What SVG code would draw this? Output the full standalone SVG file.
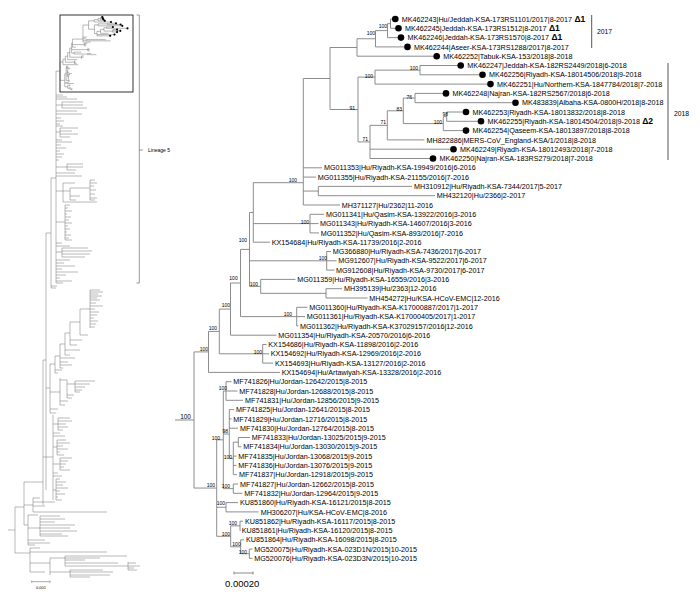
<svg xmlns="http://www.w3.org/2000/svg" xmlns:xlink="http://www.w3.org/1999/xlink" width="700" height="606" viewBox="0 0 700 606">
<style>
.lbl{font-family:"Liberation Sans",Arial,sans-serif;font-size:7.2px;fill:#000}
.bs{font-family:"Liberation Sans",Arial,sans-serif;font-size:5px;text-anchor:end;fill:#000}
.dl{font-weight:bold;font-size:8.5px}
.yr{font-family:"Liberation Sans",Arial,sans-serif;font-size:6.8px;fill:#000}
.dot{fill:#000}
.thumb{stroke:#707070;stroke-width:0.5;fill:none}
.tdot{fill:#000}
</style>
<rect width="700" height="606" fill="#fff"/>

<!-- overview tree (left) -->
<g id="overview">
<rect x="60" y="15" width="73" height="77" fill="none" stroke="#000" stroke-width="0.8"/>
<use href="#tree" xlink:href="#tree" transform="matrix(0.21 0 0 0.135 19.26 14.435)" stroke="#707070" stroke-width="0.5" fill="none"/>
<g class="tdot">
<circle cx="102.3" cy="17.0" r="1.1"/><circle cx="102.9" cy="18.3" r="1.1"/><circle cx="103.5" cy="19.5" r="1.1"/><circle cx="104.8" cy="20.8" r="1.1"/><circle cx="111.0" cy="22.0" r="1.1"/><circle cx="116.0" cy="23.3" r="1.1"/><circle cx="120.6" cy="24.5" r="1.1"/><circle cx="122.3" cy="25.8" r="1.1"/><circle cx="112.9" cy="27.0" r="1.1"/><circle cx="127.5" cy="28.3" r="1.1"/><circle cx="117.1" cy="29.6" r="1.1"/><circle cx="120.3" cy="30.8" r="1.1"/><circle cx="117.1" cy="32.1" r="1.1"/><circle cx="114.5" cy="34.6" r="1.1"/><circle cx="110.2" cy="35.8" r="1.1"/>
</g>
<path class="thumb" d="M56 71V283
M56 95H63 M56 97H67 M56 99H77 M56 105H62 M62 102V108 M62 102H83 M62 105H83 M62 108H87
M56 111H77 M56 114H82 M56 118H61 M56 121H64 M56 124H60 M56 126H63
M56 132H60 M60 128V137 M60 128H78 M60 131H72 M60 134H78 M60 137H70
M56 140H62 M56 142H72 M56 145H61 M56 148H66 M56 151H60 M56 154H64 M56 157H62 M56 160H59
M56 167H67 M67 164V170 M67 164H83 M67 167H83 M67 170H76 M56 173H75 M56 176H82
M56 191H63 M63 183V202 M63 183H75 M63 191H70 M70 188V200 M70 188H90 M90 180V200 M90 180H95 M90 183H97 M90 186H94 M90 190H96 M90 194H95 M90 198H97 M90 200H95 M70 196H80 M70 200H76 M63 202H97
M56 222H65 M65 205V240 M65 205H70 M65 208H68 M65 211H72 M65 214H67 M65 217H71 M65 220H69 M65 223H72 M65 226H68 M65 229H70 M65 232H67 M65 235H71 M65 238H69 M65 240H72
M56 243H62 M56 246H70 M56 252H62 M62 248V257 M62 248H88 M62 251H92 M62 254H90 M62 257H85
M56 260H70 M56 263H64 M56 266H75 M56 269H62 M56 272H78 M56 275H66 M56 278H60 M56 281H72 M56 283H63
M51 178V288 M51 178H56 M51 286H57 M51 288H56 M46 233V490 M46 233H51
M90 290V328 M90 290H100 M90 292H103 M90 294H98 M90 296H102 M90 298H97 M90 300H100 M90 303H96 M90 306H103 M90 309H95 M90 312H99 M90 315H97 M90 318H94 M90 321H98 M90 324H96 M90 327H95
M80 309V335 M80 309H90 M80 335H88 M70 322V345 M70 322H80 M70 340H82 M70 345H77 M65 333V355 M65 333H70 M65 350H80 M65 355H70
M60 344V368 M60 344H65 M60 358H75 M60 362H68 M60 365H72 M60 368H63 M55 356V373 M55 356H60 M55 370H62 M55 373H58
M50 364V413 M50 364H55 M50 392H60 M60 378V405 M60 380H67 M67 380V398 M67 384H75 M75 381V392 M75 381H95 M75 384H90 M75 387H85 M75 390H82 M75 392H80 M67 395H74 M67 398H72 M60 401H68 M60 405H65 M50 409H58 M50 413H56 M46 388H50
M43 360V505 M43 360H46 M43 457H53 M53 415V500
M53 424H58 M58 418V430 M58 418H70 M58 421H72 M58 424H66 M58 427H68 M58 430H63 M53 433H60 M53 436H65
M53 447H57 M57 440V455 M57 440H66 M57 443H70 M57 446H63 M57 449H68 M57 452H60 M57 455H64
M53 464H60 M60 458V470 M60 458H72 M60 461H68 M60 464H66 M60 467H64 M60 470H70 M53 473H58 M53 476H62
M53 490H56 M56 479V500 M56 479H60 M56 482H66 M56 485H63 M56 488H68 M56 491H60 M56 494H65 M56 497H58 M56 500H62
M8 530H15 M15 507V553 M15 507H24 M24 482V525 M24 482H43 M24 505H33 M33 498V512 M33 498H40 M33 502H55 M33 506H45 M33 512H107
M24 525H28 M28 515V545 M28 528H40 M40 516V536 M40 516H60 M40 519H65 M40 522H55 M40 525H75 M40 528H70 M40 531H77 M40 534H62 M40 536H68 M28 540H45 M28 543H50 M28 545H35 M28 515H38
M15 553H30 M30 548V572 M30 548H40 M30 552H107 M30 563H50 M50 558V575 M50 558H65 M65 556V566 M65 556H127 M65 558H100 M65 560H85 M65 563H118 M65 566H128 M128 562V570 M128 563H136 M128 566H140 M128 568H134 M128 570H137 M50 572H70 M70 570V577 M70 570H103 M70 572H113 M70 575H110 M70 577H90 M30 572H45"/>
<path d="M136.5 15H139.3V283H136.5 M139.3 150H143" stroke="#555" stroke-width="0.6" fill="none"/>
<text x="148" y="151.8" style="font-family:'Liberation Sans',Arial,sans-serif;font-size:5px">Lineage 5</text>
<path d="M31.7 581.7H50 M31.7 580.5V582.9 M50 580.5V582.9" stroke="#555" stroke-width="0.5" fill="none"/>
<text x="41" y="589" text-anchor="middle" style="font-family:'Liberation Sans',Arial,sans-serif;font-size:4px">0.001</text>
</g>

<!-- connectors of detailed tree -->
<g id="connectors" stroke="#808080" stroke-width="0.9" fill="none">
<path id="tree" vector-effect="non-scaling-stroke" d="M175 420H194 M194 351.9V488.05 M194 351.9H208.5 M194 488.05H216.7
M208.5 331.45V372.4 M208.5 331.45H219.3 M208.5 372.4H280
M219.3 309.1V353.8 M219.3 309.1H230.5 M219.3 353.8H262.7
M230.5 283V335.2 M230.5 283H240.5 M230.5 335.2H276.5
M240.5 249.4V316.6 M240.5 249.4H249.5 M240.5 316.6H296.7
M249.5 212.45V286.4 M249.5 212.45H253.3 M249.5 260.8H326.7 M249.5 286.4H260.7
M253.3 182.7V242.2 M253.3 182.7H303.3 M253.3 223.6H310 M253.3 242.2H270
M303.3 78.5V205 M303.3 78.5H330 M303.3 167.8H322 M303.3 177.1H316 M303.3 191.05H318.3 M303.3 205H340
M318.3 186.4V195.7 M318.3 186.4H412 M318.3 195.7H435
M330 47.5V109.5 M330 47.5H357 M330 109.5H358
M357 38.75V56.2 M357 38.75H375.5 M357 56.2H436.7
M375.5 30.6V46.9 M375.5 30.6H387.5 M375.5 46.9H407.5
M387.5 23.65V37.6 M387.5 23.65H390.5 M387.5 37.6H401
M390.5 19V28.3 M390.5 19H395.3 M390.5 28.3H398.5
M358 77.1V141.9 M358 77.1H375 M358 141.9H370
M375 70.15V84.1 M375 70.15H420 M375 84.1H490.5
M420 65.5V74.8 M420 65.5H460.7 M420 74.8H482.5
M370 125.35V158.5 M370 125.35H387.3 M370 149.2H453.5 M370 158.5H433
M387.3 110.8V139.9 M387.3 110.8H403.3 M387.3 139.9H424.5
M403.3 98.05V123.6 M403.3 98.05H415 M403.3 123.6H443.3
M415 93.4V102.7 M415 93.4H446 M415 102.7H515.5
M443.3 116.65V130.6 M443.3 116.65H446.7 M443.3 130.6H466
M446.7 112V121.3 M446.7 112H466 M446.7 121.3H481
M310 214.3V232.9 M310 214.3H324 M310 223.6H318.5 M310 232.9H319
M326.7 251.5V270.1 M326.7 251.5H331 M326.7 260.8H336.5 M326.7 270.1H334.5
M260.7 279.4V293.35 M260.7 279.4H295.5 M260.7 293.35H326
M326 288.7V298 M326 288.7H342 M326 298H367.5
M296.7 307.3V325.9 M296.7 307.3H307.5 M296.7 316.6H305 M296.7 325.9H298.5
M262.7 344.5V363.1 M262.7 344.5H266.5 M262.7 353.8H269 M262.7 363.1H273
M216.7 439.8V536.3 M216.7 439.8H223.3 M216.7 507.25H226 M216.7 536.3H230.7
M223.3 391V488.65 M223.3 391H226 M223.3 434H229.3 M223.3 488.65H233.3
M226 381.7V400.3 M226 381.7H231.5 M226 391H237.5 M226 400.3H243
M229.3 409.6V458.4 M229.3 409.6H234 M229.3 418.9H231.5 M229.3 428.2H238 M229.3 458.4H233.3
M233.3 442.15V474.7 M233.3 442.15H238.3 M233.3 456.1H236.5 M233.3 465.4H236.5 M233.3 474.7H237
M238.3 437.5V446.8 M238.3 437.5H250 M238.3 446.8H241.5
M233.3 484V493.3 M233.3 484H238 M233.3 493.3H242.5
M226 502.6V511.9 M226 502.6H238 M226 511.9H258.5
M230.7 525.85V546.8 M230.7 525.85H240 M230.7 546.8H240.7
M240 521.2V530.5 M240 521.2H243 M240 530.5H240.6
M240.7 539.8V553.75 M240.7 539.8H244 M240.7 553.75H249.3
M249.3 549.1V558.4 M249.3 549.1H252.5 M249.3 558.4H252.5"/>
</g>

<!-- bootstrap values -->
<g id="support">
<text class="bs" x="387" y="27.5">100</text>
<text class="bs" x="375" y="35.1">100</text>
<text class="bs" x="418" y="70.1">100</text>
<text class="bs" x="373" y="77.5">100</text>
<text class="bs" x="412" y="98.5">76</text>
<text class="bs" x="448" y="115.8">98</text>
<text class="bs" x="442" y="124.1">100</text>
<text class="bs" x="402" y="110.5">83</text>
<text class="bs" x="386" y="124.1">71</text>
<text class="bs" x="368" y="141.1">71</text>
<text class="bs" x="355" y="110.1">91</text>
<text class="bs" x="297" y="181.8">100</text>
<text class="bs" x="309" y="223.5">100</text>
<text class="bs" x="247" y="241.8">100</text>
<text class="bs" x="327" y="260.1">100</text>
<text class="bs" x="237.7" y="280.1">100</text>
<text class="bs" x="258" y="286.1">100</text>
<text class="bs" x="292" y="316.1">100</text>
<text class="bs" x="230" y="306.8">100</text>
<text class="bs" x="217" y="330.1">100</text>
<text class="bs" x="262" y="354.1">100</text>
<text class="bs" x="208" y="351.1">100</text>
<text class="bs" x="191" y="418.8" style="font-size:6.5px">100</text>
<text class="bs" x="227" y="390.1">100</text>
<text class="bs" x="228" y="432.8">98</text>
<text class="bs" x="220" y="439.5">100</text>
<text class="bs" x="232" y="458.5">100</text>
<text class="bs" x="215" y="486.8">100</text>
<text class="bs" x="230" y="487.8">100</text>
<text class="bs" x="225" y="505.1">100</text>
<text class="bs" x="237" y="524.5">100</text>
<text class="bs" x="230" y="535.8">100</text>
<text class="bs" x="240.7" y="545.8">100</text>
<text class="bs" x="247" y="553.5">100</text>
</g>

<!-- leaves -->
<g id="n1"><circle class="dot" cx="395.3" cy="19" r="3.3"/><text class="lbl" x="401.8" y="21.6">MK462243|Hu/Jeddah-KSA-173RS1101/2017|8-2017<tspan class="dl"> Δ1</tspan></text></g>
<g id="n2"><circle class="dot" cx="398.5" cy="28.3" r="3.3"/><text class="lbl" x="405" y="30.9">MK462245|Jeddah-KSA-173RS1512|8-2017<tspan class="dl"> Δ1</tspan></text></g>
<g id="n3"><circle class="dot" cx="401" cy="37.6" r="3.3"/><text class="lbl" x="407.5" y="40.2">MK462246|Jeddah-KSA-173RS1570|8-2017<tspan class="dl"> Δ1</tspan></text></g>
<g id="n4"><circle class="dot" cx="407.5" cy="46.9" r="3.3"/><text class="lbl" x="414" y="49.5">MK462244|Aseer-KSA-173RS1288/2017|8-2017</text></g>
<g id="n5"><circle class="dot" cx="436.7" cy="56.2" r="3.3"/><text class="lbl" x="443.2" y="58.8">MK462252|Tabuk-KSA-153/2018|8-2018</text></g>
<g id="n6"><circle class="dot" cx="460.7" cy="65.5" r="3.3"/><text class="lbl" x="467.2" y="68.1">MK462247|Jeddah-KSA-182RS2449/2018|6-2018</text></g>
<g id="n7"><circle class="dot" cx="482.5" cy="74.8" r="3.3"/><text class="lbl" x="489" y="77.4">MK462256|Riyadh-KSA-18014506/2018|9-2018</text></g>
<g id="n8"><circle class="dot" cx="490.5" cy="84.1" r="3.3"/><text class="lbl" x="497" y="86.7">MK462251|Hu/Northern-KSA-1847784/2018|7-2018</text></g>
<g id="n9"><circle class="dot" cx="446" cy="93.4" r="3.3"/><text class="lbl" x="452.5" y="96">MK462248|Najran-KSA-182RS2567/2018|6-2018</text></g>
<g id="n10"><circle class="dot" cx="515.5" cy="102.7" r="3.3"/><text class="lbl" x="522" y="105.3">MK483839|Albaha-KSA-0800H/2018|8-2018</text></g>
<g id="n11"><circle class="dot" cx="466" cy="112" r="3.3"/><text class="lbl" x="472.5" y="114.6">MK462253|Riyadh-KSA-18013832/2018|8-2018</text></g>
<g id="n12"><circle class="dot" cx="481" cy="121.3" r="3.3"/><text class="lbl" x="487.5" y="123.9">MK462255|Riyadh-KSA-18014504/2018|9-2018<tspan class="dl"> Δ2</tspan></text></g>
<g id="n13"><circle class="dot" cx="466" cy="130.6" r="3.3"/><text class="lbl" x="472.5" y="133.2">MK462254|Qaseem-KSA-18013897/2018|8-2018</text></g>
<g id="n14"><text class="lbl" x="426.5" y="142.5">MH822886|MERS-CoV_England-KSA/1/2018|8-2018</text></g>
<g id="n15"><circle class="dot" cx="453.5" cy="149.2" r="3.3"/><text class="lbl" x="460" y="151.8">MK462249|Riyadh-KSA-18012493/2018|7-2018</text></g>
<g id="n16"><circle class="dot" cx="433" cy="158.5" r="3.3"/><text class="lbl" x="439.5" y="161.1">MK462250|Najran-KSA-183RS279/2018|7-2018</text></g>
<g id="n17"><text class="lbl" x="324" y="170.4">MG011353|Hu/Riyadh-KSA-19949/2016|6-2016</text></g>
<g id="n18"><text class="lbl" x="317.7" y="179.7">MG011355|Hu/Riyadh-KSA-21155/2016|7-2016</text></g>
<g id="n19"><text class="lbl" x="414" y="189">MH310912|Hu/Riyadh-KSA-7344/2017|5-2017</text></g>
<g id="n20"><text class="lbl" x="436.7" y="198.3">MH432120|Hu/2366|2-2017</text></g>
<g id="n21"><text class="lbl" x="341.7" y="207.6">MH371127|Hu/2362|11-2016</text></g>
<g id="n22"><text class="lbl" x="326" y="216.9">MG011341|Hu/Qasim-KSA-13922/2016|3-2016</text></g>
<g id="n23"><text class="lbl" x="320" y="226.2">MG011343|Hu/Riyadh-KSA-14607/2016|3-2016</text></g>
<g id="n24"><text class="lbl" x="320.7" y="235.5">MG011352|Hu/Qasim-KSA-893/2016|7-2016</text></g>
<g id="n25"><text class="lbl" x="271.7" y="244.8">KX154684|Hu/Riyadh-KSA-11739/2016|2-2016</text></g>
<g id="n26"><text class="lbl" x="332.7" y="254.1">MG366880|Hu/Riyadh-KSA-7436/2017|6-2017</text></g>
<g id="n27"><text class="lbl" x="338.3" y="263.4">MG912607|Hu/Riyadh-KSA-9522/2017|6-2017</text></g>
<g id="n28"><text class="lbl" x="336" y="272.7">MG912608|Hu/Riyadh-KSA-9730/2017|6-2017</text></g>
<g id="n29"><text class="lbl" x="297.3" y="282">MG011359|Hu/Riyadh-KSA-16559/2016|3-2016</text></g>
<g id="n30"><text class="lbl" x="344" y="291.3">MH395139|Hu/2363|12-2016</text></g>
<g id="n31"><text class="lbl" x="369.3" y="300.6">MH454272|Hu/KSA-HCoV-EMC|12-2016</text></g>
<g id="n32"><text class="lbl" x="309.3" y="309.9">MG011360|Hu/Riyadh-KSA-K17000887/2017|1-2017</text></g>
<g id="n33"><text class="lbl" x="306.7" y="319.2">MG011361|Hu/Riyadh-KSA-K17000405/2017|1-2017</text></g>
<g id="n34"><text class="lbl" x="300" y="328.5">MG011362|Hu/Riyadh-KSA-K37029157/2016|12-2016</text></g>
<g id="n35"><text class="lbl" x="278.3" y="337.8">MG011354|Hu/Riyadh-KSA-20570/2016|6-2016</text></g>
<g id="n36"><text class="lbl" x="268.3" y="347.1">KX154686|Hu/Riyadh-KSA-11898/2016|2-2016</text></g>
<g id="n37"><text class="lbl" x="270.7" y="356.4">KX154692|Hu/Riyadh-KSA-12969/2016|2-2016</text></g>
<g id="n38"><text class="lbl" x="275" y="365.7">KX154693|Hu/Riyadh-KSA-13127/2016|2-2016</text></g>
<g id="n39"><text class="lbl" x="281.7" y="375">KX154694|Hu/Artawiyah-KSA-13328/2016|2-2016</text></g>
<g id="n40"><text class="lbl" x="233.3" y="384.3">MF741826|Hu/Jordan-12642/2015|8-2015</text></g>
<g id="n41"><text class="lbl" x="239.3" y="393.6">MF741828|Hu/Jordan-12688/2015|8-2015</text></g>
<g id="n42"><text class="lbl" x="245" y="402.9">MF741831|Hu/Jordan-12856/2015|9-2015</text></g>
<g id="n43"><text class="lbl" x="236" y="412.2">MF741825|Hu/Jordan-12641/2015|8-2015</text></g>
<g id="n44"><text class="lbl" x="233.3" y="421.5">MF741829|Hu/Jordan-12716/2015|8-2015</text></g>
<g id="n45"><text class="lbl" x="240" y="430.8">MF741830|Hu/Jordan-12764/2015|8-2015</text></g>
<g id="n46"><text class="lbl" x="251.7" y="440.1">MF741833|Hu/Jordan-13025/2015|9-2015</text></g>
<g id="n47"><text class="lbl" x="243.3" y="449.4">MF741834|Hu/Jordan-13030/2015|9-2015</text></g>
<g id="n48"><text class="lbl" x="238.3" y="458.7">MF741835|Hu/Jordan-13068/2015|9-2015</text></g>
<g id="n49"><text class="lbl" x="238.3" y="468">MF741836|Hu/Jordan-13076/2015|9-2015</text></g>
<g id="n50"><text class="lbl" x="239" y="477.3">MF741837|Hu/Jordan-12918/2015|9-2015</text></g>
<g id="n51"><text class="lbl" x="240" y="486.6">MF741827|Hu/Jordan-12662/2015|8-2015</text></g>
<g id="n52"><text class="lbl" x="244.3" y="495.9">MF741832|Hu/Jordan-12964/2015|9-2015</text></g>
<g id="n53"><text class="lbl" x="240" y="505.2">KU851860|Hu/Riyadh-KSA-16121/2015|8-2015</text></g>
<g id="n54"><text class="lbl" x="260.7" y="514.5">MH306207|Hu/KSA-HCoV-EMC|8-2016</text></g>
<g id="n55"><text class="lbl" x="245" y="523.8">KU851862|Hu/Riyadh-KSA-16117/2015|8-2015</text></g>
<g id="n56"><text class="lbl" x="241.7" y="533.1">KU851861|Hu/Riyadh-KSA-16120/2015|8-2015</text></g>
<g id="n57"><text class="lbl" x="246" y="542.4">KU851864|Hu/Riyadh-KSA-16098/2015|8-2015</text></g>
<g id="n58"><text class="lbl" x="254.3" y="551.7">MG520075|Hu/Riyadh-KSA-023D1N/2015|10-2015</text></g>
<g id="n59"><text class="lbl" x="254.3" y="561">MG520076|Hu/Riyadh-KSA-023D3N/2015|10-2015</text></g>

<!-- year brackets -->
<g id="y2017"><path d="M591.7 15V48" stroke="#444" stroke-width="0.9"/><text class="yr" x="597" y="33.5">2017</text></g>
<g id="y2018"><path d="M668 63V160" stroke="#444" stroke-width="0.9"/><text class="yr" x="674" y="115.5">2018</text></g>

<!-- scale bar -->
<g id="scale">
<path d="M234 573H253 M234 571.5V574.5 M253 571.5V574.5" stroke="#808080" stroke-width="0.9" fill="none"/>
<text x="225" y="587" style="font-family:'Liberation Sans',Arial,sans-serif;font-size:9.5px">0.00020</text>
</g>
</svg>
